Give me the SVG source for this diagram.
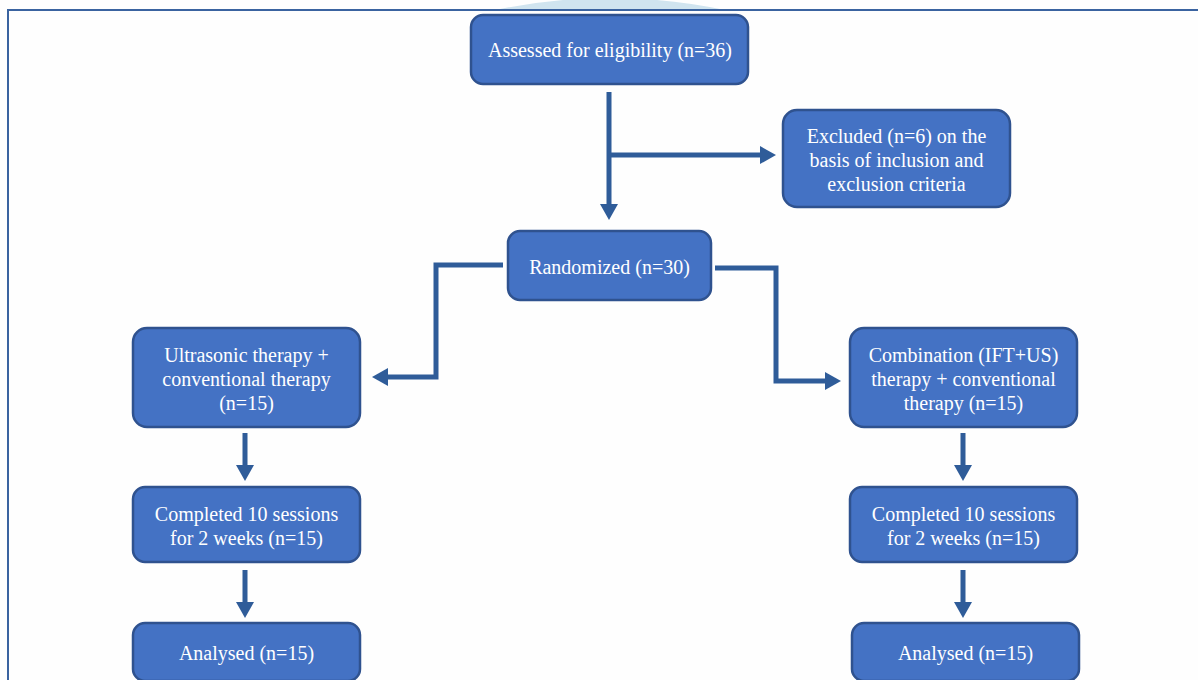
<svg xmlns="http://www.w3.org/2000/svg" width="1198" height="680" viewBox="0 0 1198 680">
<defs>
<style>
.box{fill:#4472C4;stroke:#2F528F;stroke-width:2.5}
.t{font-family:"Liberation Serif","Times New Roman",serif;font-size:20px;fill:#ffffff;text-anchor:middle}
.c{fill:none;stroke:#2F5C99;stroke-width:5;marker-end:url(#ah)}
.cn{fill:none;stroke:#2F5C99;stroke-width:5}
</style>
<marker id="ah" markerUnits="userSpaceOnUse" markerWidth="16" markerHeight="18" refX="2" refY="9" orient="auto">
<path d="M0,0 L16,9 L0,18 Z" fill="#2F5C99"/>
</marker>
</defs>
<rect width="1198" height="680" fill="#fefefe"/>
<path d="M495,10 Q610,-14 725,10 Z" fill="#d0e4ef"/>
<line x1="7" y1="10" x2="1198" y2="10" stroke="#3A63A0" stroke-width="2"/>
<line x1="8" y1="10" x2="8" y2="680" stroke="#3A63A0" stroke-width="2"/>

<g id="connectors">
<path class="cn" d="M609,92 V155"/>
<path class="c" d="M609,155 V206"/>
<path class="c" d="M609,155 H762"/>
<path class="c" d="M503,265 H436 V377 H386"/>
<path class="c" d="M715,268 H776 V381 H827"/>
<path class="c" d="M245,433 V467"/>
<path class="c" d="M245,570 V604"/>
<path class="c" d="M963,433 V467"/>
<path class="c" d="M963,570 V604"/>
</g>

<g id="n1"><rect class="box" x="471" y="15" width="277" height="69" rx="12"/><text class="t" x="610" y="57">Assessed for eligibility (n=36)</text></g>
<g id="n2"><rect class="box" x="783" y="110" width="227" height="97" rx="14"/><text class="t" x="896.5" y="143">Excluded (n=6) on the</text><text class="t" x="896.5" y="167">basis of inclusion and</text><text class="t" x="896.5" y="191">exclusion criteria</text></g>
<g id="n3"><rect class="box" x="508" y="231" width="203" height="69" rx="12"/><text class="t" x="609.5" y="274">Randomized (n=30)</text></g>
<g id="n4"><rect class="box" x="133" y="328" width="227" height="99" rx="14"/><text class="t" x="246.5" y="362">Ultrasonic therapy +</text><text class="t" x="246.5" y="386">conventional therapy</text><text class="t" x="246.5" y="410">(n=15)</text></g>
<g id="n5"><rect class="box" x="133" y="487" width="227" height="75" rx="12"/><text class="t" x="246.5" y="521">Completed 10 sessions</text><text class="t" x="246.5" y="545">for 2 weeks (n=15)</text></g>
<g id="n6"><rect class="box" x="133" y="623" width="227" height="58" rx="12"/><text class="t" x="246.5" y="660">Analysed (n=15)</text></g>
<g id="n7"><rect class="box" x="850" y="328" width="227" height="99" rx="14"/><text class="t" x="963.5" y="362">Combination (IFT+US)</text><text class="t" x="963.5" y="386">therapy + conventional</text><text class="t" x="963.5" y="410">therapy (n=15)</text></g>
<g id="n8"><rect class="box" x="850" y="487" width="227" height="75" rx="12"/><text class="t" x="963.5" y="521">Completed 10 sessions</text><text class="t" x="963.5" y="545">for 2 weeks (n=15)</text></g>
<g id="n9"><rect class="box" x="852" y="623" width="227" height="58" rx="12"/><text class="t" x="965.5" y="660">Analysed (n=15)</text></g>
</svg>
